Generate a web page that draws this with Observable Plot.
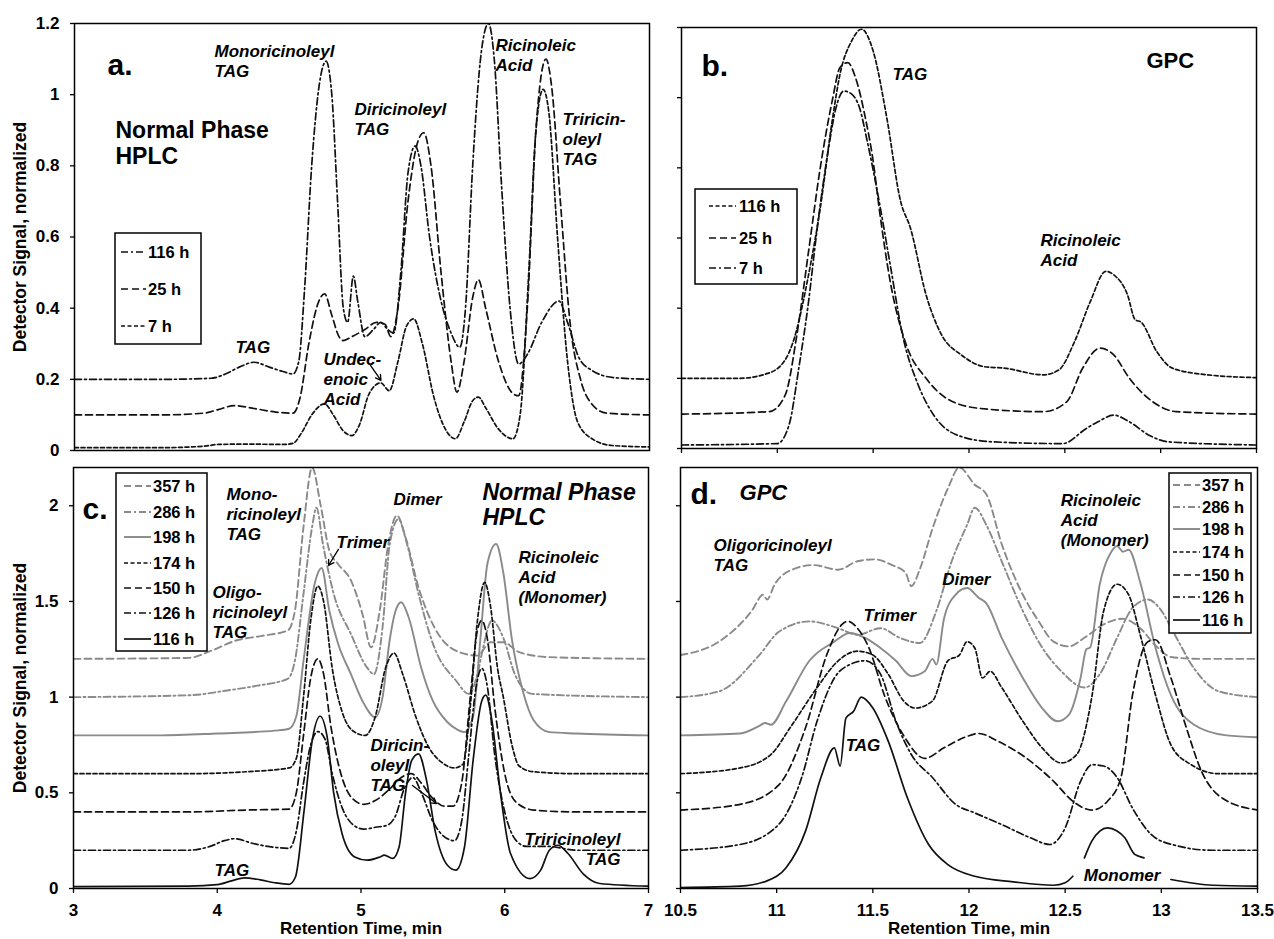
<!DOCTYPE html>
<html><head><meta charset="utf-8">
<script src="https://cdn.jsdelivr.net/npm/d3@7"></script>
<script src="https://cdn.jsdelivr.net/npm/@observablehq/plot@0.6"></script>
<style>
body{margin:0;background:#fff;}
#wrap{position:relative;width:1274px;height:939px;overflow:hidden;background:#fff;}
#wrap svg{position:absolute;}
</style></head><body><div id="wrap"></div>
<script>
// ---------------- DATA ----------------
// Panel a: Normal phase HPLC (retention time min, normalized signal)
const aSeries = ["116 h", "25 h", "7 h"];
const a116 = [[3,0.2],[3.6,0.2],[3.95,0.203],[4.05,0.215],[4.15,0.235],[4.25,0.248],[4.35,0.235],[4.45,0.222],[4.52,0.215],[4.56,0.25],[4.6,0.45],[4.65,0.8],[4.7,1.02],[4.75,1.094],[4.79,1.0],[4.83,0.7],[4.87,0.4],[4.9,0.36],[4.94,0.49],[4.97,0.42],[5.02,0.32],[5.08,0.34],[5.13,0.36],[5.18,0.34],[5.22,0.33],[5.27,0.5],[5.32,0.78],[5.37,0.856],[5.41,0.8],[5.47,0.6],[5.55,0.42],[5.62,0.33],[5.68,0.29],[5.72,0.4],[5.77,0.8],[5.83,1.12],[5.88,1.2],[5.92,1.1],[5.97,0.75],[6.03,0.4],[6.09,0.243],[6.15,0.27],[6.25,0.36],[6.37,0.42],[6.43,0.36],[6.51,0.26],[6.6,0.225],[6.75,0.205],[7,0.2]];
const a25 = [[3,0.1],[3.6,0.1],[3.9,0.105],[4.0,0.115],[4.11,0.126],[4.25,0.118],[4.4,0.108],[4.52,0.105],[4.57,0.15],[4.63,0.3],[4.7,0.42],[4.74,0.44],[4.79,0.38],[4.84,0.32],[4.87,0.309],[4.93,0.32],[5.02,0.34],[5.1,0.36],[5.16,0.355],[5.2,0.32],[5.25,0.4],[5.32,0.7],[5.39,0.87],[5.43,0.893],[5.48,0.8],[5.55,0.5],[5.62,0.25],[5.66,0.164],[5.71,0.25],[5.77,0.43],[5.81,0.48],[5.86,0.4],[5.95,0.25],[6.05,0.16],[6.09,0.154],[6.15,0.4],[6.21,0.9],[6.28,1.1],[6.32,1.02],[6.38,0.7],[6.45,0.35],[6.52,0.2],[6.6,0.13],[6.7,0.105],[7,0.1]];
const a7 = [[3,0.008],[3.6,0.008],[3.9,0.012],[4.0,0.017],[4.2,0.018],[4.45,0.017],[4.52,0.02],[4.58,0.05],[4.65,0.1],[4.74,0.131],[4.8,0.1],[4.87,0.055],[4.93,0.042],[4.98,0.07],[5.05,0.16],[5.13,0.19],[5.19,0.168],[5.25,0.25],[5.31,0.35],[5.36,0.37],[5.42,0.3],[5.5,0.15],[5.58,0.06],[5.65,0.033],[5.71,0.08],[5.77,0.14],[5.81,0.15],[5.86,0.12],[5.95,0.06],[6.05,0.033],[6.1,0.1],[6.16,0.5],[6.21,0.9],[6.26,1.015],[6.3,0.95],[6.36,0.6],[6.43,0.25],[6.5,0.08],[6.6,0.033],[6.74,0.014],[7,0.01]];

// Panel b: GPC
const bSeries = ["116 h", "25 h", "7 h"];
const b116 = [[10.5,0.2],[10.8,0.2],[10.95,0.214],[11.04,0.252],[11.08,0.3],[11.163,0.495],[11.224,0.686],[11.286,0.933],[11.327,1.067],[11.388,1.162],[11.439,1.195],[11.5,1.133],[11.571,0.943],[11.643,0.705],[11.694,0.629],[11.776,0.438],[11.857,0.324],[11.959,0.267],[12.082,0.233],[12.184,0.229],[12.388,0.21],[12.469,0.224],[12.551,0.305],[12.633,0.419],[12.714,0.505],[12.755,0.495],[12.827,0.438],[12.867,0.367],[12.898,0.36],[12.98,0.276],[13.061,0.229],[13.245,0.21],[13.5,0.202]];
const b25 = [[10.5,0.098],[10.959,0.105],[11.041,0.152],[11.102,0.324],[11.163,0.562],[11.224,0.8],[11.286,0.99],[11.327,1.086],[11.367,1.1],[11.408,1.057],[11.459,0.943],[11.5,0.819],[11.531,0.686],[11.592,0.467],[11.673,0.295],[11.776,0.2],[11.898,0.138],[12.061,0.114],[12.388,0.105],[12.51,0.133],[12.592,0.228],[12.684,0.286],[12.755,0.267],[12.837,0.2],[12.959,0.133],[13.082,0.105],[13.5,0.098]];
const b7 = [[10.5,0.01],[11.0,0.014],[11.061,0.067],[11.112,0.229],[11.163,0.419],[11.204,0.61],[11.265,0.848],[11.306,0.971],[11.347,1.019],[11.388,1.01],[11.429,0.971],[11.469,0.876],[11.531,0.705],[11.592,0.514],[11.653,0.324],[11.735,0.181],[11.816,0.095],[11.939,0.038],[12.122,0.019],[12.49,0.014],[12.612,0.057],[12.673,0.076],[12.755,0.095],[12.837,0.076],[12.939,0.038],[13.041,0.019],[13.5,0.01]];

// Panel c: Normal phase HPLC, later times
const cSeries = ["357 h", "286 h", "198 h", "174 h", "150 h", "126 h", "116 h"];
const c357 = [[3,1.2],[3.8,1.205],[3.96,1.243],[4.13,1.296],[4.31,1.32],[4.49,1.348],[4.54,1.45],[4.6,1.89],[4.66,2.2],[4.72,2.0],[4.78,1.765],[4.84,1.696],[4.93,1.61],[5.01,1.435],[5.07,1.26],[5.13,1.45],[5.19,1.8],[5.25,1.95],[5.31,1.835],[5.4,1.574],[5.51,1.365],[5.66,1.243],[5.81,1.217],[5.9,1.287],[5.99,1.287],[6.1,1.235],[6.31,1.209],[7,1.2]];
const c286 = [[3,1.0],[3.81,1.01],[4.07,1.035],[4.28,1.06],[4.49,1.096],[4.54,1.19],[4.6,1.54],[4.66,1.89],[4.69,1.99],[4.735,1.8],[4.81,1.54],[4.93,1.33],[5.04,1.157],[5.09,1.12],[5.15,1.365],[5.2,1.8],[5.26,1.93],[5.32,1.8],[5.4,1.54],[5.51,1.26],[5.66,1.087],[5.75,1.017],[5.81,1.12],[5.85,1.26],[5.91,1.4],[5.99,1.31],[6.07,1.12],[6.19,1.017],[7,1.0]];
const c198 = [[3,0.8],[3.6,0.8],[4.0,0.81],[4.4,0.825],[4.5,0.835],[4.55,0.9],[4.6,1.19],[4.68,1.6],[4.726,1.675],[4.78,1.45],[4.84,1.28],[4.93,1.12],[5.01,0.98],[5.1,0.895],[5.15,1.0],[5.2,1.3],[5.24,1.45],[5.28,1.496],[5.33,1.42],[5.42,1.15],[5.5,0.98],[5.6,0.87],[5.67,0.83],[5.72,0.817],[5.78,0.9],[5.83,1.3],[5.88,1.7],[5.94,1.8],[5.99,1.65],[6.05,1.3],[6.13,1.02],[6.2,0.88],[6.31,0.817],[6.5,0.81],[7,0.8]];
const c174 = [[3,0.6],[3.8,0.6],[4.2,0.61],[4.5,0.63],[4.55,0.68],[4.6,1.0],[4.65,1.4],[4.7,1.58],[4.74,1.5],[4.8,1.15],[4.87,0.92],[4.95,0.82],[5.03,0.8],[5.1,0.9],[5.17,1.15],[5.23,1.23],[5.29,1.12],[5.38,0.9],[5.47,0.74],[5.56,0.66],[5.65,0.63],[5.71,0.65],[5.76,0.95],[5.81,1.4],[5.86,1.6],[5.9,1.48],[5.95,1.15],[5.99,1.0],[6.05,0.75],[6.1,0.64],[6.2,0.61],[6.5,0.6],[7,0.6]];
const c150 = [[3,0.4],[3.8,0.4],[4.2,0.41],[4.5,0.415],[4.55,0.5],[4.6,0.8],[4.65,1.1],[4.7,1.2],[4.74,1.12],[4.79,0.85],[4.86,0.6],[4.94,0.47],[5.02,0.44],[5.1,0.46],[5.2,0.52],[5.28,0.58],[5.35,0.6],[5.42,0.55],[5.5,0.47],[5.58,0.43],[5.64,0.43],[5.7,0.55],[5.76,1.0],[5.81,1.35],[5.84,1.4],[5.88,1.3],[5.93,0.95],[6.0,0.6],[6.08,0.45],[6.2,0.41],[6.5,0.4],[7,0.4]];
const c126 = [[3,0.2],[3.8,0.2],[3.95,0.22],[4.05,0.25],[4.12,0.26],[4.25,0.235],[4.4,0.215],[4.5,0.21],[4.55,0.3],[4.6,0.55],[4.65,0.75],[4.7,0.82],[4.75,0.78],[4.8,0.6],[4.87,0.42],[4.95,0.33],[5.02,0.31],[5.1,0.32],[5.18,0.33],[5.24,0.38],[5.3,0.52],[5.36,0.58],[5.42,0.5],[5.5,0.35],[5.58,0.27],[5.65,0.25],[5.7,0.35],[5.75,0.7],[5.8,1.05],[5.84,1.15],[5.88,1.05],[5.93,0.7],[6.0,0.4],[6.08,0.25],[6.15,0.22],[6.3,0.22],[6.5,0.2],[7,0.2]];
const c116 = [[3,0.01],[3.8,0.012],[4.0,0.02],[4.1,0.04],[4.19,0.056],[4.3,0.045],[4.4,0.03],[4.5,0.022],[4.544,0.06],[4.603,0.4],[4.662,0.78],[4.715,0.9],[4.765,0.79],[4.81,0.5],[4.868,0.287],[4.956,0.165],[5.044,0.148],[5.132,0.165],[5.162,0.174],[5.22,0.157],[5.265,0.217],[5.31,0.5],[5.353,0.67],[5.4,0.704],[5.456,0.565],[5.515,0.304],[5.603,0.12],[5.66,0.096],[5.72,0.217],[5.78,0.67],[5.84,0.98],[5.868,1.01],[5.91,0.88],[5.97,0.5],[6.04,0.183],[6.176,0.052],[6.25,0.096],[6.31,0.2],[6.37,0.226],[6.44,0.183],[6.544,0.078],[6.66,0.026],[7,0.012]];

// Panel d: GPC, later times
const dSeries = ["357 h", "286 h", "198 h", "174 h", "150 h", "126 h", "116 h"];
const d357 = [[10.5,1.22],[10.7,1.29],[10.87,1.45],[10.93,1.535],[10.95,1.51],[10.99,1.59],[11.09,1.67],[11.19,1.69],[11.32,1.666],[11.42,1.71],[11.51,1.72],[11.6,1.69],[11.67,1.65],[11.7,1.58],[11.745,1.67],[11.81,1.88],[11.89,2.09],[11.95,2.2],[12.03,2.11],[12.09,2.06],[12.17,1.8],[12.28,1.535],[12.36,1.4],[12.44,1.29],[12.52,1.265],[12.6,1.31],[12.7,1.38],[12.8,1.41],[12.89,1.36],[12.97,1.27],[13.05,1.21],[13.2,1.2],[13.5,1.2]];
const d286 = [[10.5,1.0],[10.7,1.03],[10.91,1.22],[11.01,1.34],[11.17,1.396],[11.32,1.36],[11.42,1.326],[11.54,1.36],[11.64,1.31],[11.745,1.283],[11.83,1.45],[11.91,1.71],[11.99,1.9],[12.03,1.99],[12.09,1.9],[12.17,1.71],[12.28,1.45],[12.38,1.26],[12.48,1.135],[12.6,1.05],[12.68,1.12],[12.77,1.31],[12.85,1.466],[12.93,1.51],[12.99,1.466],[13.07,1.326],[13.17,1.15],[13.3,1.03],[13.5,1.0]];
const d198 = [[10.5,0.8],[10.81,0.81],[10.91,0.85],[10.94,0.865],[10.97,0.856],[11.05,0.98],[11.17,1.19],[11.3,1.29],[11.38,1.335],[11.46,1.31],[11.54,1.257],[11.62,1.19],[11.7,1.11],[11.77,1.135],[11.81,1.2],[11.83,1.17],[11.87,1.41],[11.93,1.535],[11.99,1.57],[12.05,1.52],[12.09,1.49],[12.17,1.31],[12.28,1.1],[12.38,0.943],[12.46,0.874],[12.52,0.909],[12.58,1.1],[12.61,1.25],[12.63,1.26],[12.68,1.59],[12.74,1.76],[12.77,1.79],[12.8,1.76],[12.83,1.77],[12.89,1.6],[12.97,1.257],[13.05,1.01],[13.17,0.856],[13.34,0.8],[13.5,0.79]];
const d174 = [[10.5,0.6],[10.81,0.63],[10.97,0.7],[11.07,0.84],[11.21,1.05],[11.32,1.19],[11.42,1.24],[11.5,1.22],[11.58,1.12],[11.66,0.98],[11.72,0.943],[11.81,0.98],[11.89,1.19],[11.95,1.22],[11.99,1.29],[12.03,1.257],[12.07,1.1],[12.11,1.135],[12.17,1.05],[12.28,0.874],[12.38,0.735],[12.48,0.656],[12.56,0.7],[12.64,1.01],[12.7,1.45],[12.77,1.59],[12.83,1.535],[12.89,1.326],[12.97,1.01],[13.05,0.75],[13.15,0.65],[13.3,0.6],[13.5,0.6]];
const d150 = [[10.5,0.41],[10.81,0.44],[11.01,0.54],[11.15,0.84],[11.26,1.22],[11.34,1.38],[11.37,1.396],[11.42,1.36],[11.48,1.257],[11.56,1.01],[11.66,0.8],[11.77,0.68],[11.87,0.735],[11.99,0.795],[12.05,0.81],[12.15,0.77],[12.3,0.68],[12.44,0.56],[12.54,0.456],[12.64,0.41],[12.72,0.456],[12.79,0.58],[12.85,1.01],[12.93,1.29],[12.97,1.3],[13.05,1.1],[13.13,0.84],[13.21,0.61],[13.32,0.47],[13.5,0.41]];
const d126 = [[10.5,0.2],[10.81,0.23],[11.01,0.334],[11.13,0.58],[11.21,0.874],[11.3,1.1],[11.38,1.17],[11.46,1.19],[11.54,1.12],[11.62,0.874],[11.7,0.7],[11.81,0.58],[11.93,0.44],[12.03,0.395],[12.17,0.334],[12.32,0.265],[12.42,0.23],[12.5,0.317],[12.58,0.56],[12.64,0.647],[12.7,0.64],[12.77,0.58],[12.85,0.42],[12.95,0.28],[13.07,0.226],[13.26,0.2],[13.5,0.2]];
const d116 = [[10.5,0.005],[10.81,0.012],[10.95,0.04],[11.05,0.11],[11.15,0.3],[11.23,0.58],[11.3,0.735],[11.33,0.64],[11.36,0.89],[11.4,0.926],[11.44,1.0],[11.5,0.943],[11.58,0.77],[11.68,0.473],[11.79,0.23],[11.89,0.125],[12.03,0.064],[12.23,0.035],[12.44,0.017],[12.5,0.03],[12.54,0.064],[12.57,NaN],[12.6,0.16],[12.64,0.25],[12.68,0.3],[12.72,0.317],[12.77,0.3],[12.81,0.265],[12.86,0.18],[12.88,0.17],[12.91,0.16],[12.95,NaN],[13.05,0.047],[13.27,0.017],[13.5,0.012]];

// Axis ticks
const yTicksAB = [0, 0.2, 0.4, 0.6, 0.8, 1, 1.2];
const yTicksCD = [0, 0.5, 1, 1.5, 2];
const xTicksAC = [3, 4, 5, 6, 7];
const xTicksBD = [10.5, 11, 11.5, 12, 12.5, 13, 13.5];
const yTitle = "Detector Signal, normalized";
const xTitle = "Retention Time, min";

// Annotations (data coordinates)
const notesA = [
  {t: "Monoricinoleyl\nTAG", x: 3.974, y: 1.145},
  {t: "Diricinoleyl\nTAG", x: 4.948, y: 0.984},
  {t: "Ricinoleic\nAcid", x: 5.929, y: 1.163},
  {t: "Triricin-\noleyl\nTAG", x: 6.395, y: 0.955},
  {t: "TAG", x: 4.12, y: 0.315},
  {t: "Undec-\nenoic\nAcid", x: 4.732, y: 0.281}
];
const headA = [{t: "Normal Phase\nHPLC", x: 3.285, y: 0.931}];
const tagA = [{t: "a.", x: 3.23, y: 1.081}];
const arrowsA = [{x1: 5.059, y1: 0.239, x2: 5.132, y2: 0.197}];

const notesB = [
  {t: "TAG", x: 11.601, y: 1.092},
  {t: "Ricinoleic\nAcid", x: 12.373, y: 0.617}
];
const headB = [{t: "GPC", x: 12.926, y: 1.136}];
const tagB = [{t: "b.", x: 10.604, y: 1.09}];

const notesC = [
  {t: "Mono-\nricinoleyl\nTAG", x: 4.064, y: 2.106},
  {t: "Trimer", x: 4.83, y: 1.855},
  {t: "Dimer", x: 5.226, y: 2.08},
  {t: "Ricinoleic\nAcid\n(Monomer)", x: 6.096, y: 1.777},
  {t: "Oligo-\nricinoleyl\nTAG", x: 3.967, y: 1.594},
  {t: "Diricin-\noleyl\nTAG", x: 5.066, y: 0.794},
  {t: "TAG", x: 3.981, y: 0.141}
];
const notesCend = [{t: "Triricinoleyl\nTAG", x: 6.805, y: 0.303}];
const headC = [{t: "Normal Phase\nHPLC", x: 5.845, y: 2.128}];
const tagC = [{t: "c.", x: 3.063, y: 1.983}];
const arrowsC = [
  {x1: 4.843, y1: 1.772, x2: 4.774, y2: 1.688},
  {x1: 5.358, y1: 0.538, x2: 5.525, y2: 0.444}
];

const notesD = [
  {t: "Oligoricinoleyl\nTAG", x: 10.672, y: 1.839},
  {t: "Trimer", x: 11.452, y: 1.474},
  {t: "Dimer", x: 11.861, y: 1.662},
  {t: "Ricinoleic\nAcid\n(Monomer)", x: 12.477, y: 2.075},
  {t: "TAG", x: 11.359, y: 0.794},
  {t: "Monomer", x: 12.597, y: 0.115}
];
const headD = [{t: "GPC", x: 10.807, y: 2.125}];
const tagD = [{t: "d.", x: 10.552, y: 2.062}];

// ---------------- STYLES ----------------
const FONT = "'Liberation Sans', Arial, Helvetica, sans-serif";
const GRAY = "#8a8a8a", BLK = "#111";
const LONG = "7,4", SHORT = "4,2.5", DASHDOT = "7,3,2,3";
const styleA = {"116 h": {s: BLK, d: DASHDOT, w: 1.7}, "25 h": {s: BLK, d: LONG, w: 1.7}, "7 h": {s: BLK, d: SHORT, w: 1.7}};
const styleB = {"116 h": {s: BLK, d: SHORT, w: 1.7}, "25 h": {s: BLK, d: LONG, w: 1.7}, "7 h": {s: BLK, d: DASHDOT, w: 1.7}};
const styleCD = {
  "357 h": {s: GRAY, d: LONG, w: 1.9}, "286 h": {s: GRAY, d: DASHDOT, w: 1.9}, "198 h": {s: GRAY, d: null, w: 1.9},
  "174 h": {s: BLK, d: SHORT, w: 1.7}, "150 h": {s: BLK, d: LONG, w: 1.7}, "126 h": {s: BLK, d: DASHDOT, w: 1.7}, "116 h": {s: BLK, d: null, w: 1.7}
};

function lines(names, arrays, st) {
  return names.map((n, i) => Plot.line(arrays[i], Object.assign({
    x: d => d[0], y: d => d[1], stroke: st[n].s, strokeWidth: st[n].w,
    curve: "monotone-x", clip: true
  }, st[n].d ? {strokeDasharray: st[n].d} : {})));
}
const noteOpts = {x: "x", y: "y", text: "t", textAnchor: "start", lineAnchor: "top",
  fontStyle: "italic", fontWeight: "bold", fontSize: 17, lineHeight: 1.18, fill: "black"};
const headOpts = {x: "x", y: "y", text: "t", textAnchor: "start", lineAnchor: "top",
  fontWeight: "bold", fontSize: 23, lineHeight: 1.15, fill: "black"};
const tagOpts = {x: "x", y: "y", text: "t", textAnchor: "start", lineAnchor: "middle",
  fontWeight: "bold", fontSize: 30, fill: "black"};
const arrowOpts = {x1: "x1", y1: "y1", x2: "x2", y2: "y2", stroke: "black", strokeWidth: 1.3, headLength: 7};
const baseStyle = {fontFamily: FONT, fontWeight: "bold", background: "white", color: "black", overflow: "visible"};
const fmt = d => String(d);

function legend(svg, box, rows, names, st, lx, tx) {
  const g = d3.select(svg).append("g");
  g.append("rect").attr("x", box[0]).attr("y", box[1]).attr("width", box[2] - box[0]).attr("height", box[3] - box[1])
    .attr("fill", "white").attr("stroke", "black").attr("stroke-width", 1.5);
  names.forEach((n, i) => {
    const l = g.append("line").attr("x1", lx[0]).attr("x2", lx[1]).attr("y1", rows[i]).attr("y2", rows[i])
      .attr("stroke", st[n].s).attr("stroke-width", st[n].w);
    if (st[n].d) l.attr("stroke-dasharray", st[n].d);
    g.append("text").attr("x", tx).attr("y", rows[i]).attr("dy", "0.36em").attr("font-family", FONT)
      .attr("font-size", 16.5).attr("font-weight", "bold").attr("text-anchor", "start").attr("fill", "black").text(n);
  });
}
function place(svg, left, top) {
  svg.style.position = "absolute"; svg.style.left = left + "px"; svg.style.top = top + "px";
  document.getElementById("wrap").appendChild(svg);
}

// ---------------- PANEL a ----------------
const pA = Plot.plot({
  width: 660, height: 462, marginLeft: 74, marginRight: 11, marginTop: 23, marginBottom: 12,
  x: {domain: [3, 7], axis: null}, y: {domain: [0, 1.2], axis: null}, style: baseStyle,
  marks: [
    Plot.axisY({ticks: yTicksAB, tickFormat: fmt, tickSize: 4, tickPadding: 11, fontSize: 17, fontWeight: "bold", label: null, strokeWidth: 1.3}),
    ...lines(aSeries, [a116, a25, a7], styleA),
    Plot.frame({stroke: "black", strokeWidth: 1.5}),
    Plot.text(notesA, noteOpts),
    Plot.text(headA, headOpts),
    Plot.text(tagA, tagOpts),
    Plot.arrow(arrowsA, arrowOpts),
    Plot.text([yTitle], {frameAnchor: "left", dx: -54, rotate: -90, textAnchor: "middle", lineAnchor: "middle", fontSize: 17.5, fontWeight: "bold"})
  ]
});
legend(pA, [115, 233, 201, 344], [252, 289, 326], aSeries, styleA, [121, 146], 148);
place(pA, 0, 0);

// ---------------- PANEL b ----------------
const pB = Plot.plot({
  width: 614, height: 462, marginLeft: 21, marginRight: 18, marginTop: 27, marginBottom: 14,
  x: {domain: [10.5, 13.5], axis: null}, y: {domain: [0, 1.2], axis: null}, style: baseStyle,
  marks: [
    Plot.axisY({ticks: yTicksAB, tickFormat: () => "", tickSize: 4, label: null, strokeWidth: 1.3}),
    Plot.axisX({ticks: xTicksBD, tickFormat: () => "", tickSize: 5, label: null, strokeWidth: 1.3}),
    ...lines(bSeries, [b116, b25, b7], styleB),
    Plot.frame({stroke: "black", strokeWidth: 1.5}),
    Plot.text(notesB, noteOpts),
    Plot.text(headB, Object.assign({}, headOpts, {fontSize: 22})),
    Plot.text(tagB, tagOpts)
  ]
});
legend(pB, [35, 189, 137, 284], [206, 238, 268], bSeries, styleB, [49, 76], 79);
place(pB, 660, 0);

// ---------------- PANEL c ----------------
const pC = Plot.plot({
  width: 660, height: 477, marginLeft: 73, marginRight: 12, marginTop: 5, marginBottom: 51,
  x: {domain: [3, 7], axis: null}, y: {domain: [0, 2.2], axis: null}, style: baseStyle,
  marks: [
    Plot.axisY({ticks: yTicksCD, tickFormat: fmt, tickSize: 4, tickPadding: 11, fontSize: 17, fontWeight: "bold", label: null, strokeWidth: 1.3}),
    Plot.axisX({ticks: xTicksAC, tickFormat: fmt, tickSize: 5, tickPadding: 10, fontSize: 17, fontWeight: "bold", label: null, strokeWidth: 1.3}),
    ...lines(cSeries, [c357, c286, c198, c174, c150, c126, c116], styleCD),
    Plot.frame({stroke: "black", strokeWidth: 1.5}),
    Plot.text(notesC, noteOpts),
    Plot.text(notesCend, Object.assign({}, noteOpts, {textAnchor: "end"})),
    Plot.text(headC, Object.assign({}, headOpts, {fontStyle: "italic", lineHeight: 1.12})),
    Plot.text(tagC, tagOpts),
    Plot.arrow(arrowsC, arrowOpts),
    Plot.text([yTitle], {frameAnchor: "left", dx: -53, rotate: -90, textAnchor: "middle", lineAnchor: "middle", fontSize: 17.5, fontWeight: "bold"}),
    Plot.text([xTitle], {frameAnchor: "bottom", dy: 40, textAnchor: "middle", lineAnchor: "middle", fontSize: 17, fontWeight: "bold"})
  ]
});
legend(pC, [116, 11, 207, 189], [24, 50, 75, 101, 126, 151, 177], cSeries, styleCD, [124, 151], 153);
place(pC, 0, 462);

// ---------------- PANEL d ----------------
const pD = Plot.plot({
  width: 614, height: 477, marginLeft: 20, marginRight: 17, marginTop: 5, marginBottom: 51,
  x: {domain: [10.5, 13.5], axis: null}, y: {domain: [0, 2.2], axis: null}, style: baseStyle,
  marks: [
    Plot.axisY({ticks: yTicksCD, tickFormat: () => "", tickSize: 4, label: null, strokeWidth: 1.3}),
    Plot.axisX({ticks: xTicksBD, tickFormat: fmt, tickSize: 5, tickPadding: 10, fontSize: 17, fontWeight: "bold", label: null, strokeWidth: 1.3}),
    ...lines(dSeries, [d357, d286, d198, d174, d150, d126, d116], styleCD),
    Plot.frame({stroke: "black", strokeWidth: 1.5}),
    Plot.text(notesD, noteOpts),
    Plot.text(headD, Object.assign({}, headOpts, {fontStyle: "italic", fontSize: 22})),
    Plot.text(tagD, tagOpts),
    Plot.text([xTitle], {frameAnchor: "bottom", dy: 40, textAnchor: "middle", lineAnchor: "middle", fontSize: 17, fontWeight: "bold"})
  ]
});
legend(pD, [509, 11, 591, 171], [23, 45, 67, 90, 113, 135, 158], dSeries, styleCD, [513, 540], 542);
place(pD, 660, 462);
</script></body></html>
